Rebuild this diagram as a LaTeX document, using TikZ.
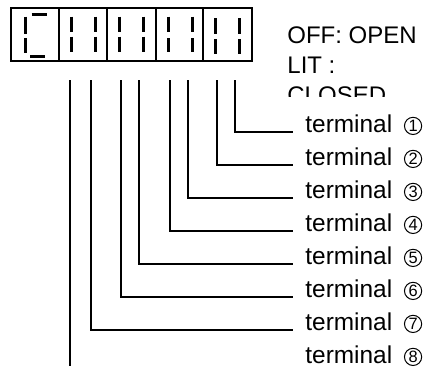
\documentclass[tikz,border=0pt]{standalone}
\usepackage{fontspec}
\setmainfont{Liberation Sans}
\usepackage{tikz}
\definecolor{my_black}{HTML}{000000}

% eingekreiste Klemmennummer
\newcommand{\kreis}[1]{\tikz[baseline={([yshift=1.5pt]k.south)}]
    \node[circle, draw=my_black, line width=0.5pt, anchor=center,
          inner sep=0pt, minimum size=8.6pt,
          font=\fontsize{8.2}{9}\selectfont] (k) {#1};}

\begin{document}
\begin{tikzpicture}[
    x=0.5pt, y=-0.5pt,
    frame/.style={draw=my_black, line width=1pt},
    segment/.style={draw=my_black, line width=1.5pt},
    lead/.style={draw=my_black, line width=1pt},
    legend/.style={anchor=base west, align=left, inner sep=0pt,
        font=\fontsize{12}{15}\selectfont},
    termlabel/.style={anchor=base west, inner xsep=6pt, inner ysep=0pt,
        font=\fontsize{12.2}{14}\selectfont}
]
\useasboundingbox (0,0) rectangle (432,366);

% ----------------------------------------------------------
% Anzeige: fuenf Stellen, 7-Segment
% ----------------------------------------------------------
\draw[frame] (11,8.3) rectangle (251.5,60.7);
\foreach \dx in {59, 107.3, 155.5, 203.3} {
    \draw[frame] (\dx,8.3) -- (\dx,60.7);
}

% Stelle 1: "C"-artig (oben, links, unten)
\draw[segment] (31.7,14.3) -- (46.7,14.3);
\draw[segment] (25.7,16.7) -- (25.7,34.3);
\draw[segment] (25.7,38.3) -- (25.7,52.7);
\draw[segment] (30,56.7) -- (45,56.7);

% Stellen 2-5: je zwei senkrechte Segmentpaare
\foreach \xa/\xb/\ya/\yb/\yc/\yd in {
    71/95.3/16.7/31.7/36.7/51.7,
    119.3/143.3/16.7/31.7/36.7/51.7,
    168.3/192.7/16.7/31.7/38/51.7,
    215/239.3/18.3/34.3/39.3/54.3} {
    \draw[segment] (\xa,\ya) -- (\xa,\yb) (\xa,\yc) -- (\xa,\yd)
                   (\xb,\ya) -- (\xb,\yb) (\xb,\yc) -- (\xb,\yd);
}

% Legende (unten abgeschnitten, Grundlinie der letzten Zeile)
\begin{scope}
    \clip (280,15) rectangle (432,96.7);
    \node[legend] (legende) at (287,103.3) {OFF: OPEN\\LIT :\\CLOSED};
\end{scope}

% ----------------------------------------------------------
% Klemmenbeschriftung
% ----------------------------------------------------------
\foreach \i in {1,...,8} {
    \node[termlabel] (t\i) at (293,{132+33*(\i-1)})
        {terminal\hspace{2.5pt} \kreis{\i}};
}

% Anschlusspunkte unter den Segmenten
\foreach \i/\px in {1/235.3, 2/216.7, 3/188.3, 4/170.3,
                    5/139.3, 6/120.7, 7/91, 8/70} {
    \coordinate (pin\i) at (\px,80);
}
\coordinate (pin8end) at (70,366);

% Leitungen
\foreach \i in {1,...,7} {
    \draw[lead] (pin\i) |- (t\i.base west);
}
\draw[lead] (pin8) -- (pin8end);

\end{tikzpicture}
\end{document}
